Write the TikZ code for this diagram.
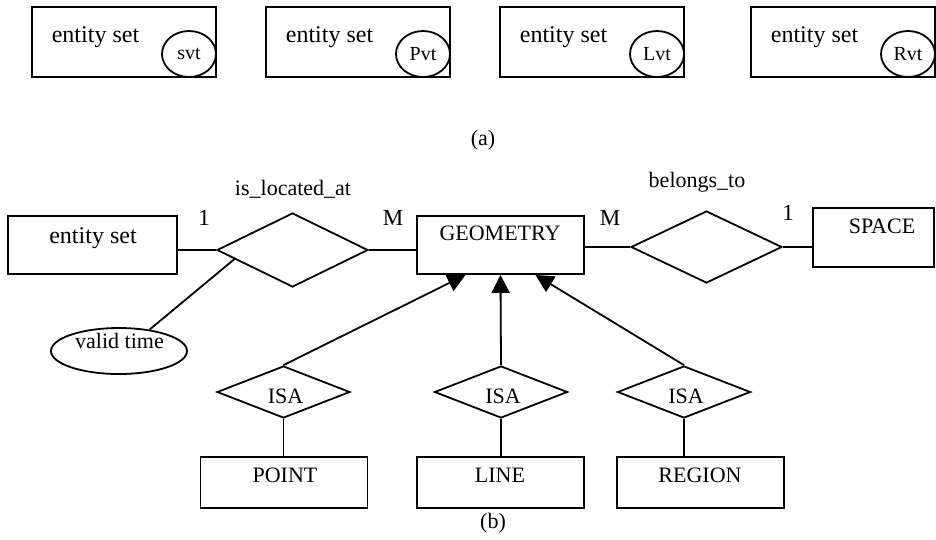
\documentclass[tikz,border=0pt]{standalone}
\usepackage{fontspec}
\setmainfont{Liberation Serif}
\usetikzlibrary{arrows.meta,calc,shapes.geometric}
\tikzset{
 er/.style={x=1pt,y=-1pt,line width=1.8pt,line join=miter,
   font=\fontsize{22}{26}\selectfont},
 entity/.style={rectangle,draw,inner sep=0pt},
 tag/.style={ellipse,draw,inner sep=0pt,minimum width=54pt,minimum height=46pt,
   font=\fontsize{20}{24}\selectfont},
 attrib/.style={ellipse,draw,inner sep=0pt,minimum width=136pt,minimum height=46pt},
 relship/.style={diamond,draw,inner sep=0pt,minimum width=151pt,minimum height=74pt},
 isa/.style={diamond,draw,inner sep=0pt,minimum width=133pt,minimum height=52pt},
 txt/.style={anchor=base,inner sep=0pt},
 big/.style={txt,font=\fontsize{24}{28}\selectfont},
 card/.style={txt,font=\fontsize{23}{27}\selectfont},
 link/.style={draw},
 flow/.style={draw,-{Triangle[length=18pt,width=18pt]}}
}

\begin{document}
\begin{tikzpicture}[er]
 \useasboundingbox (0,0) rectangle (936,539);
 % (a) entity sets carrying a time tag
 \foreach \i/\cx/\tg in {1/124/svt,2/358/Pvt,3/592/Lvt,4/843/Rvt}{
  \node[entity,minimum width=184pt,minimum height=70pt] (top\i) at (\cx,42) {};
  \node[big] (top\i t) at (\cx-28.5,42) {entity set};
  \node[tag] (tag\i) at (\cx+65,54) {\tg};
 }
 \node[txt] (capA) at (483,145) {(a)};
 % (b) geometry of an entity set
 \node[entity,minimum width=169pt,minimum height=58pt] (ent) at (92.5,245) {};
 \node[big] (entT) at (93,243) {entity set};
 \node[relship] (loc) at (292.5,250) {};
 \node[txt] (locT) at (293,195) {is\_located\_at};
 \node[entity,minimum width=167pt,minimum height=58pt] (geo) at (500.5,245) {};
 \node[txt] (geoT) at (500,240) {GEOMETRY};
 \node[relship,minimum height=72pt] (bel) at (706.5,247) {};
 \node[txt] (belT) at (697,187) {belongs\_to};
 \node[entity,minimum width=121pt,minimum height=59pt] (spc) at (873.5,237.5) {};
 \node[txt] (spcT) at (882,233) {SPACE};
 \node[attrib] (vt) at (119,351) {};
 \node[txt] (vtT) at (119.5,348) {valid time};
 \node[card] (locOne) at (204,225) {1};
 \node[card] (locM) at (393,225) {M};
 \node[card] (belM) at (610,225) {M};
 \node[card] (belOne) at (788,220) {1};
 \draw[link] (loc.west -| ent.east) -- (loc.west);
 \draw[link] (loc.east) -- (loc.east -| geo.west);
 \draw[link] (bel.west -| geo.east) -- (bel.west);
 \draw[link] (bel.east) -- (bel.east -| spc.west);
 \draw[link] (vt.35) -- ($(loc.west)!0.24!(loc.south)$);
 % subclasses
 \foreach \k/\dx/\bx/\bt/\nm in {1/283.5/284/285/POINT,2/501/500.5/500/LINE,3/684/700.5/700/REGION}{
  \node[isa] (isa\k) at (\dx,392) {};
  \node[txt] (isa\k t) at (\dx+2,403) {ISA};
  \node[entity,minimum width=167pt,minimum height=51pt] (sub\k) at (\bx,482.5) {};
  \node[txt] (sub\k t) at (\bt,482) {\nm};
  \draw[link] (isa\k.south) -- (isa\k.south |- sub\k.north);
 }
 \draw[flow] (isa1.north) -- ($(geo.south west)!0.293!(geo.south east)$);
 \draw[flow] (isa2.north) -- (geo.south);
 \draw[flow] (isa3.north) -- ($(geo.south west)!0.707!(geo.south east)$);
 \node[txt] (capB) at (493,528) {(b)};
\end{tikzpicture}
\end{document}
